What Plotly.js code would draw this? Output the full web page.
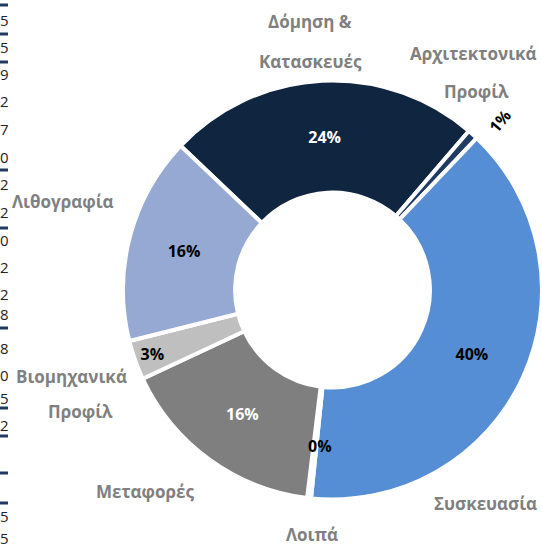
<!DOCTYPE html>
<html><head><meta charset="utf-8">
<script src="https://cdn.plot.ly/plotly-3.0.1.min.js"></script>
<style>html,body{margin:0;padding:0;overflow:hidden;background:#fff}</style>
</head><body><div id="chart" style="width:542px;height:547px"></div>
<script>
// ---- data ----
const categories = ["Δόμηση & Κατασκευές", "Αρχιτεκτονικά Προφίλ", "Συσκευασία", "Λοιπά", "Μεταφορές", "Βιομηχανικά Προφίλ", "Λιθογραφία"];
const shares = [24.2, 0.8, 39.55, 0.3, 16.1, 3.05, 16.0];
const labelLines = [["Δόμηση &", "Κατασκευές"], ["Αρχιτεκτονικά", "Προφίλ"], ["Συσκευασία"], ["Λοιπά"], ["Μεταφορές"], ["Βιομηχανικά", "Προφίλ"], ["Λιθογραφία"]];
const edgeDigits = ["5","5","9","2","7","0","2","2","0","2","2","8","8","0","5","2","5","5"];

// ---- styles / layout ----
const W = 542, H = 547;
const sliceColors = ["#10253f", "#1f3b63", "#558ed5", "#4f81bd", "#7f7f7f", "#bfbfbf", "#95a9d2"];
const pctColors = ["#ffffff", "#000000", "#000000", "#000000", "#ffffff", "#000000", "#000000"];
const pctPos = ["inside", "none", "inside", "none", "inside", "inside", "inside"];
const labelPos = [[[310, 22], [310, 62]], [[473, 54], [476, 92]], [[485, 503]], [[312, 534]], [[145, 492]], [[71, 376], [80, 411]], [[63, 201]]];
const digitY = [20, 47, 74, 101, 129, 157, 184, 212, 240, 267, 294, 314, 348, 375, 398, 425, 516, 538];
const lineY = [5, 34, 62, 170, 228, 328, 408, 436, 473, 503];
const px = x => x / W, py = y => 1 - y / H;

function pctText(i) {
  const tot = shares.reduce((a, b) => a + b, 0);
  return Math.round(shares[i] / tot * 100) + "%";
}

const annotations = [];
labelLines.forEach((lines, i) => {
  lines.forEach((t, j) => {
    annotations.push({xref: "paper", yref: "paper", x: px(labelPos[i][j][0]), y: py(labelPos[i][j][1]),
      text: t, showarrow: false, xanchor: "center", yanchor: "middle",
      font: {family: "Open Sans", size: 17, color: "#808080", weight: 700}});
  });
});
// small-slice percentages
annotations.push({xref: "paper", yref: "paper", x: px(500), y: py(121), text: pctText(1), showarrow: false,
  xanchor: "center", yanchor: "middle", textangle: -50,
  font: {family: "Open Sans", size: 16, color: "#000", weight: 700}});
annotations.push({xref: "paper", yref: "paper", x: px(320), y: py(446), text: pctText(3), showarrow: false,
  xanchor: "center", yanchor: "middle",
  font: {family: "Open Sans", size: 16, color: "#000", weight: 700}});
// neighbouring table fragments at the left edge
edgeDigits.forEach((d, k) => {
  annotations.push({xref: "paper", yref: "paper", x: 0, y: py(digitY[k]), text: d, showarrow: false,
    xanchor: "left", yanchor: "middle", borderpad: 0, borderwidth: 0,
    font: {family: "Open Sans", size: 15, color: "#222"}});
});
const shapes = lineY.map(y => ({type: "rect", xref: "paper", yref: "paper", x0: 0, x1: px(8),
  y0: py(y - 1.5), y1: py(y + 1.5), fillcolor: "#1f3b63", line: {width: 0}}));

const trace = {
  type: "pie", labels: categories, values: shares, sort: false, direction: "clockwise",
  rotation: -46.5, hole: 0.465,
  domain: {x: [123 / W, 1], y: [(H - 500) / H, (H - 80) / H]},
  marker: {colors: sliceColors, line: {color: "#ffffff", width: 4}},
  texttemplate: "%{percent:.0%}", textposition: pctPos, insidetextorientation: "horizontal",
  textfont: {family: "Open Sans", size: 16, color: pctColors, weight: 700},
  showlegend: false, hoverinfo: "label+percent"
};

Plotly.newPlot("chart", [trace], {
  width: W, height: H, margin: {l: 0, r: 0, t: 0, b: 0},
  paper_bgcolor: "#fff", plot_bgcolor: "#fff", showlegend: false,
  annotations: annotations, shapes: shapes
}, {displayModeBar: false, staticPlot: true});
</script></body></html>
